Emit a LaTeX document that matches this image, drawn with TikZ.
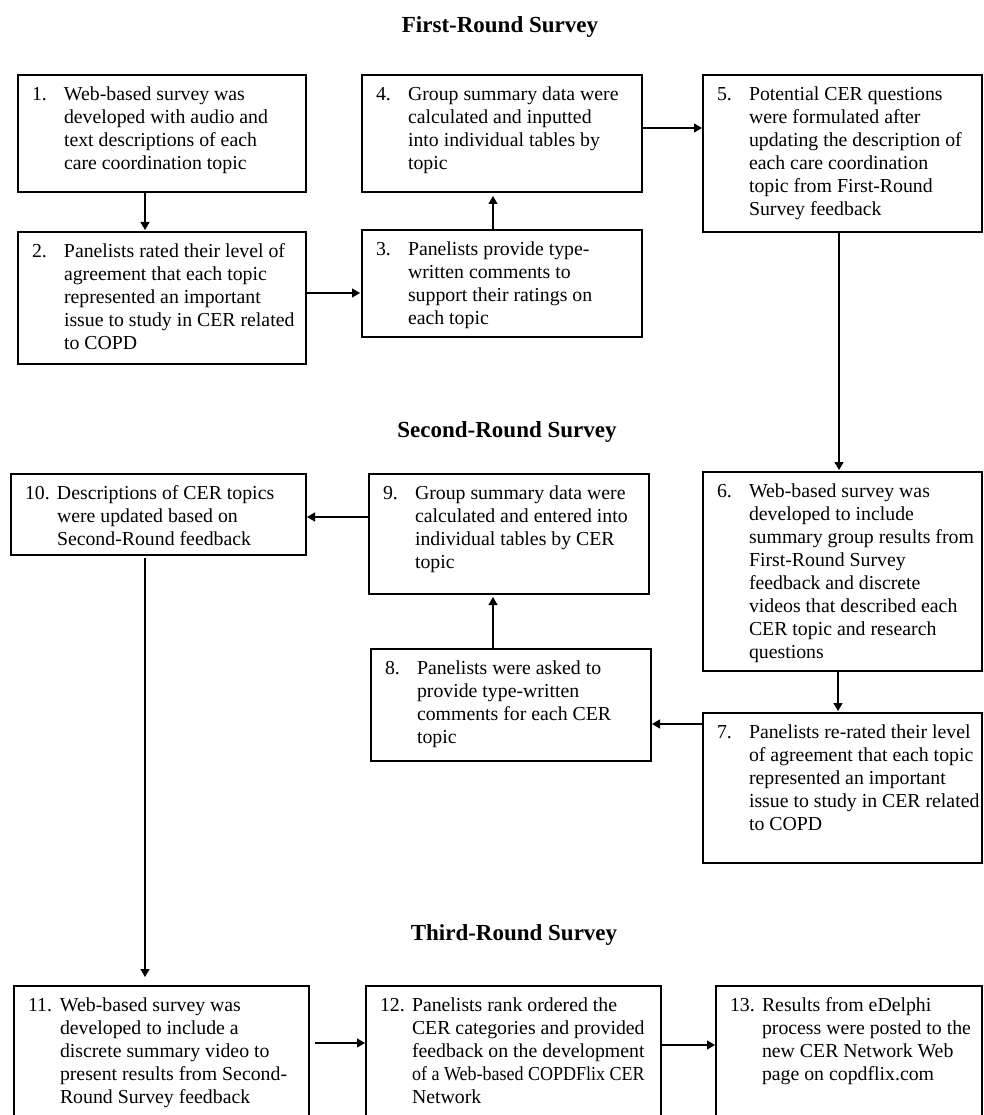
\documentclass[tikz,border=0pt]{standalone}
\usepackage{fontspec}
\setmainfont{Liberation Serif}
\usetikzlibrary{arrows.meta}

\newcommand{\boxtext}[4]{%
  \parbox[t][\dimexpr#2pt-18pt\relax][t]{\dimexpr#1pt-28pt\relax}{%
    \begin{tabular}[t]{@{}p{32pt}@{}l@{}}#3 & #4\end{tabular}}}

\begin{document}
\begin{tikzpicture}[
    x=1pt, y=-1pt,
    box/.style={
        draw,
        line width=1.3pt,
        anchor=north west,
        inner xsep=14pt,
        inner ysep=9pt,
        outer sep=0pt,
        font=\fontsize{19.8}{23}\selectfont
    },
    title/.style={
        anchor=base,
        font=\bfseries\fontsize{23}{27}\selectfont
    },
    arrow/.style={
        -{Triangle[length=8pt,width=9pt]},
        line width=1.2pt,
        shorten >=2pt
    }
]

\useasboundingbox (0,0) rectangle (983,1115);
\clip (0,0) rectangle (983,1115);

\node[title] (round1) at (500,33) {First-Round Survey};
\node[title] (round2) at (507,437) {Second-Round Survey};
\node[title] (round3) at (514,940) {Third-Round Survey};


\node[box] (b1) at (18,75)
    {\boxtext{288}{117}{1.}{Web-based survey was\\
     & developed with audio and\\ & text descriptions of each\\
     & care coordination topic}};

\node[box] (b2) at (18,232)
    {\boxtext{288}{132}{2.}{Panelists rated their level of\\
     & agreement that each topic\\ & represented an important\\
     & issue to study in CER related\\ & to COPD}};

\node[box] (b3) at (362,230)
    {\boxtext{280}{107}{3.}{Panelists provide type-\\
     & written comments to\\ & support their ratings on\\
     & each topic}};

\node[box] (b4) at (362,75)
    {\boxtext{280}{117}{4.}{Group summary data were\\
     & calculated and inputted\\ & into individual tables by\\
     & topic}};

\node[box] (b5) at (703,75)
    {\boxtext{279}{157}{5.}{Potential CER questions\\
     & were formulated after\\ & updating the description of\\
     & each care coordination\\ & topic from First-Round\\
     & Survey feedback}};


\node[box] (b6) at (703,472)
    {\boxtext{279}{199}{6.}{Web-based survey was\\
     & developed to include\\ & summary group results from\\
     & First-Round Survey\\ & feedback and discrete\\
     & videos that described each\\ & CER topic and research\\
     & questions}};

\node[box] (b7) at (703,713)
    {\boxtext{279}{150}{7.}{Panelists re-rated their level\\
     & of agreement that each topic\\ & represented an important\\
     & issue to study in CER related\\ & to COPD}};

\node[box] (b8) at (371,649)
    {\boxtext{280}{112}{8.}{Panelists were asked to\\
     & provide type-written\\ & comments for each CER\\
     & topic}};

\node[box] (b9) at (369,474)
    {\boxtext{280}{120}{9.}{Group summary data were\\
     & calculated and entered into\\ & individual tables by CER\\
     & topic}};

\node[box] (b10) at (11,474)
    {\boxtext{295}{81}{10.}{Descriptions of CER topics\\
     & were updated based on\\ & Second-Round feedback}};


\node[box] (b11) at (14,986)
    {\boxtext{295}{160}{11.}{Web-based survey was\\
     & developed to include a\\ & discrete summary video to\\
     & present results from Second-\\ & Round Survey feedback}};

\node[box] (b12) at (366,986)
    {\boxtext{295}{160}{12.}{Panelists rank ordered the\\
     & CER categories and provided\\ & feedback on the development\\
     & \scalebox{0.91}[1]{of a Web-based COPDFlix CER}\\ & Network}};

\node[box] (b13) at (716,986)
    {\boxtext{266}{160}{13.}{Results from eDelphi\\
     & process were posted to the\\ & new CER Network Web\\
     & page on copdflix.com}};


\draw[arrow] ([xshift=-17pt]b1.south) -- ([xshift=-17pt]b1.south |- b2.north);
\draw[arrow] ([yshift=-61pt]b2.north east) -- ([yshift=-61pt]b2.north east -| b3.west);
\draw[arrow, shorten >=4pt] ([xshift=-9pt]b3.north) -- ([xshift=-9pt]b3.north |- b4.south);
\draw[arrow, shorten >=1pt] ([yshift=-53pt]b4.north east) -- ([yshift=-53pt]b4.north east -| b5.west);

\draw[arrow] ([xshift=-3.5pt]b5.south) -- ([xshift=-3.5pt]b5.south |- b6.north);
\draw[arrow] ([xshift=-4.5pt]b6.south) -- ([xshift=-4.5pt]b6.south |- b7.north);
\draw[arrow, shorten >=1pt] ([yshift=-11pt]b7.north west) -- ([yshift=-11pt]b7.north west -| b8.east);
\draw[arrow, shorten >=3pt] ([xshift=-18pt]b8.north) -- ([xshift=-18pt]b8.north |- b9.south);
\draw[arrow, shorten >=1pt] ([yshift=-43pt]b9.north west) -- ([yshift=-43pt]b9.north west -| b10.east);

\draw[arrow, shorten >=9pt, shorten <=3pt] ([xshift=-13.5pt]b10.south) -- ([xshift=-13.5pt]b10.south |- b11.north);
\draw[arrow, shorten <=6pt, shorten >=1pt] ([yshift=-57pt]b11.north east) -- ([yshift=-57pt]b11.north east -| b12.west);
\draw[arrow, shorten <=1pt, shorten >=1pt] ([yshift=-59pt]b12.north east) -- ([yshift=-59pt]b12.north east -| b13.west);

\end{tikzpicture}
\end{document}
